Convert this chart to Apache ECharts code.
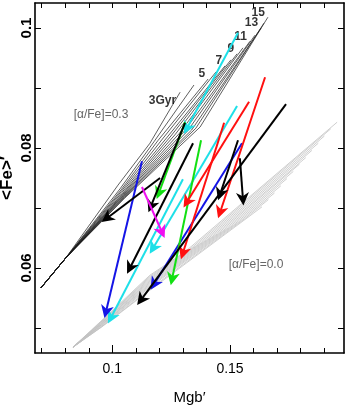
<!DOCTYPE html>
<html>
<head>
<meta charset="utf-8">
<script src="https://cdn.jsdelivr.net/npm/echarts@6/dist/echarts.min.js"></script>
<style>
  html, body { margin: 0; padding: 0; background: #fff; }
  #chart { width: 346px; height: 415px; }
</style>
</head>
<body>
<div id="chart"></div>
<script>
// axis ticks / labels
const xTicks = [0.07, 0.08, 0.09, 0.1, 0.11, 0.12, 0.13, 0.14, 0.15, 0.16, 0.17, 0.18, 0.19];
const xLabels = [0.1, 0.15];
const yTicks = [0.05, 0.06, 0.07, 0.08, 0.09, 0.1];
const yLabels = [0.06, 0.08, 0.1];

// model ages (Gyr), one track per age, low -> high metallicity
const ages = [3, 4, 5, 6, 7, 8, 9, 10, 11, 12, 13, 14, 15];
const labelledAges = [3, 5, 7, 9, 11, 13, 15];

// [alpha/Fe]=0.3 models
const grid03 = [
  [[0.0697, 0.0567], [0.0803, 0.0617], [0.1024, 0.0738], [0.1160, 0.0808], [0.1288, 0.0893]],
  [[0.0697, 0.0567], [0.0803, 0.0617], [0.1033, 0.0732], [0.1178, 0.0811], [0.1347, 0.0905]],
  [[0.0697, 0.0567], [0.0803, 0.0617], [0.1037, 0.0730], [0.1195, 0.0813], [0.1407, 0.0915]],
  [[0.0697, 0.0567], [0.0803, 0.0617], [0.1039, 0.0728], [0.1213, 0.0815], [0.1441, 0.0927]],
  [[0.0697, 0.0567], [0.0803, 0.0617], [0.1041, 0.0726], [0.1231, 0.0817], [0.1479, 0.0937]],
  [[0.0697, 0.0567], [0.0803, 0.0617], [0.1043, 0.0724], [0.1249, 0.0820], [0.1504, 0.0947]],
  [[0.0697, 0.0567], [0.0803, 0.0617], [0.1045, 0.0723], [0.1266, 0.0822], [0.1530, 0.0957]],
  [[0.0697, 0.0567], [0.0803, 0.0617], [0.1047, 0.0722], [0.1284, 0.0824], [0.1555, 0.0967]],
  [[0.0697, 0.0567], [0.0803, 0.0617], [0.1048, 0.0721], [0.1302, 0.0826], [0.1585, 0.0978]],
  [[0.0697, 0.0567], [0.0803, 0.0617], [0.1050, 0.0720], [0.1319, 0.0828], [0.1606, 0.0988]],
  [[0.0697, 0.0567], [0.0803, 0.0617], [0.1051, 0.0719], [0.1337, 0.0830], [0.1632, 0.1000]],
  [[0.0697, 0.0567], [0.0803, 0.0617], [0.1053, 0.0718], [0.1355, 0.0833], [0.1644, 0.1008]],
  [[0.0697, 0.0567], [0.0803, 0.0617], [0.1054, 0.0717], [0.1373, 0.0835], [0.1661, 0.1018]]
];

// [alpha/Fe]=0.0 models
const grid00 = [
  [[0.0833, 0.0468], [0.0948, 0.0510], [0.1160, 0.0588], [0.1309, 0.0627], [0.1955, 0.0843]],
  [[0.0833, 0.0468], [0.0949, 0.0509], [0.1160, 0.0586], [0.1332, 0.0632], [0.1928, 0.0832]],
  [[0.0833, 0.0468], [0.0949, 0.0509], [0.1160, 0.0584], [0.1355, 0.0637], [0.1901, 0.0820]],
  [[0.0833, 0.0468], [0.0950, 0.0508], [0.1160, 0.0582], [0.1378, 0.0642], [0.1875, 0.0808]],
  [[0.0833, 0.0468], [0.0951, 0.0507], [0.1160, 0.0580], [0.1401, 0.0647], [0.1848, 0.0796]],
  [[0.0833, 0.0468], [0.0951, 0.0507], [0.1160, 0.0578], [0.1424, 0.0652], [0.1822, 0.0784]],
  [[0.0833, 0.0468], [0.0952, 0.0506], [0.1160, 0.0576], [0.1447, 0.0657], [0.1795, 0.0773]],
  [[0.0833, 0.0468], [0.0953, 0.0505], [0.1160, 0.0574], [0.1470, 0.0662], [0.1769, 0.0761]],
  [[0.0833, 0.0468], [0.0953, 0.0505], [0.1160, 0.0572], [0.1493, 0.0667], [0.1742, 0.0749]],
  [[0.0833, 0.0468], [0.0954, 0.0504], [0.1160, 0.0570], [0.1516, 0.0672], [0.1716, 0.0737]],
  [[0.0833, 0.0468], [0.0955, 0.0503], [0.1160, 0.0568], [0.1539, 0.0677], [0.1689, 0.0725]],
  [[0.0833, 0.0468], [0.0955, 0.0502], [0.1160, 0.0565], [0.1562, 0.0682], [0.1663, 0.0714]],
  [[0.0833, 0.0468], [0.0956, 0.0502], [0.1160, 0.0563], [0.1585, 0.0687], [0.1636, 0.0702]]
];

// galaxy arrows: [from, to]
const arrowsCyan = [
  [[0.1534, 0.0992], [0.1317, 0.0833]],
  [[0.1530, 0.0870], [0.1173, 0.0633]],
  [[0.1300, 0.0748], [0.0994, 0.0517]]
];
const arrowsBlue = [
  [[0.1126, 0.0778], [0.0973, 0.0527]],
  [[0.1551, 0.0808], [0.1177, 0.0573]]
];
const arrowsGreen = [
  [[0.1309, 0.0843], [0.1198, 0.0725]],
  [[0.1377, 0.0813], [0.1254, 0.0582]]
];
const arrowsRed = [
  [[0.1649, 0.0918], [0.1458, 0.0693]],
  [[0.1581, 0.0877], [0.1317, 0.0710]],
  [[0.1475, 0.0842], [0.1300, 0.0625]]
];
const arrowsBlack = [
  [[0.1738, 0.0873], [0.1122, 0.0547]],
  [[0.1534, 0.0813], [0.1458, 0.0723]],
  [[0.1542, 0.0783], [0.1555, 0.0715]],
  [[0.1309, 0.0842], [0.1164, 0.0703]],
  [[0.1343, 0.0808], [0.1075, 0.0600]],
  [[0.1203, 0.0750], [0.0977, 0.0683]]
];
const arrowsMagenta = [
  [[0.1126, 0.0735], [0.1211, 0.0660]]
];

const font = "'Liberation Sans', Arial, sans-serif";
const arrowHead = 'path://M5,0 L10,14 L5,10 L0,14 Z';

let myChart = echarts.init(document.getElementById('chart'));

let series = [];
grid03.forEach(function (pts) {
  series.push({
    type: 'line', data: pts, symbol: 'none', silent: true, z: 1,
    lineStyle: { color: '#1a1a1a', width: 0.7 }
  });
});
grid00.forEach(function (pts) {
  series.push({
    type: 'line', data: pts, symbol: 'none', silent: true, z: 1,
    lineStyle: { color: '#c2c2c2', width: 0.8 }
  });
});

// age labels at the metal-rich end of the labelled tracks
series.push({
  type: 'scatter', symbolSize: 0, silent: true, z: 3,
  data: labelledAges.map(function (a) {
    let pts = grid03[ages.indexOf(a)];
    let end = pts[pts.length - 1];
    return {
      value: end,
      label: {
        show: true,
        position: 'left',
        distance: 3,
        offset: a == 3 ? [-1, 8] : [0, -5],
        formatter: a == 3 ? '3Gyr' : String(a),
        fontFamily: font, fontWeight: 'bold', fontSize: 12, color: '#000'
      }
    };
  })
});

let arrowSets = [
  [arrowsCyan, '#1ee0e8'],
  [arrowsBlue, '#1414e6'],
  [arrowsGreen, '#12e012'],
  [arrowsRed, '#ff1010'],
  [arrowsBlack, '#000000'],
  [arrowsMagenta, '#f010f0']
];
arrowSets.forEach(function (s) {
  series.push({
    type: 'lines',
    coordinateSystem: 'cartesian2d',
    silent: true,
    z: 5,
    symbol: ['none', arrowHead],
    symbolSize: [9, 13],
    lineStyle: { color: s[1], width: 2, opacity: 1 },
    data: s[0].map(function (c) { return { coords: c }; })
  });
});

let xMin = 0.06716, xMax = 0.19843, yMin = 0.04583, yMax = 0.10417;

let option = {
  animation: false,
  backgroundColor: '#fff',
  grid: { left: 35, right: 2, top: 3, bottom: 62, containLabel: false, outerBoundsMode: 'none' },
  xAxis: [
    {
      type: 'value', position: 'bottom', min: xMin, max: xMax,
      name: "Mgb\u2032", nameLocation: 'middle', nameGap: 37, nameMoveOverlap: false,
      nameTextStyle: { fontFamily: font, fontSize: 15, color: '#000' },
      axisLine: { show: true, onZero: false, lineStyle: { color: '#000', width: 1.6 } },
      axisTick: { show: true, inside: true, length: 5, customValues: xTicks, lineStyle: { color: '#000', width: 1 } },
      axisLabel: { show: true, customValues: xLabels, margin: 9, fontFamily: font, fontSize: 14, color: '#000' },
      splitLine: { show: false }
    },
    {
      type: 'value', position: 'bottom', min: xMin, max: xMax,
      axisLine: { show: false },
      axisTick: { show: true, inside: true, length: 8, customValues: xLabels, lineStyle: { color: '#000', width: 1 } },
      axisLabel: { show: false },
      splitLine: { show: false }
    },
    {
      type: 'value', position: 'top', min: xMin, max: xMax,
      axisLine: { show: true, onZero: false, lineStyle: { color: '#000', width: 1.6 } },
      axisTick: { show: true, inside: true, length: 5, customValues: xTicks, lineStyle: { color: '#000', width: 1 } },
      axisLabel: { show: false },
      splitLine: { show: false }
    }
  ],
  yAxis: [
    {
      type: 'value', position: 'left', min: yMin, max: yMax,
      name: "<Fe>\u2032", nameLocation: 'middle', nameGap: 19, nameRotate: 90, nameMoveOverlap: false,
      nameTextStyle: { fontFamily: font, fontWeight: 'bold', fontSize: 17, color: '#000' },
      axisLine: { show: true, onZero: false, lineStyle: { color: '#000', width: 1.6 } },
      axisTick: { show: true, inside: true, length: 6, customValues: yTicks, lineStyle: { color: '#000', width: 1 } },
      axisLabel: { show: true, customValues: yLabels, rotate: 90, margin: 1, fontFamily: font, fontWeight: 'bold', fontSize: 15, color: '#000' },
      splitLine: { show: false }
    },
    {
      type: 'value', position: 'right', min: yMin, max: yMax,
      axisLine: { show: true, onZero: false, lineStyle: { color: '#000', width: 1.6 } },
      axisTick: { show: true, inside: true, length: 6, customValues: yTicks, lineStyle: { color: '#000', width: 1 } },
      axisLabel: { show: false },
      splitLine: { show: false }
    }
  ],
  graphic: [
    { type: 'text', x: 101, y: 115, z: 10,
      style: { text: '[\u03b1/Fe]=0.3', fill: '#666', fontFamily: font, fontSize: 12, align: 'center', verticalAlign: 'middle' } },
    { type: 'text', x: 256, y: 265, z: 10,
      style: { text: '[\u03b1/Fe]=0.0', fill: '#666', fontFamily: font, fontSize: 12, align: 'center', verticalAlign: 'middle' } }
  ],
  series: series
};

myChart.setOption(option);
</script>
</body>
</html>
